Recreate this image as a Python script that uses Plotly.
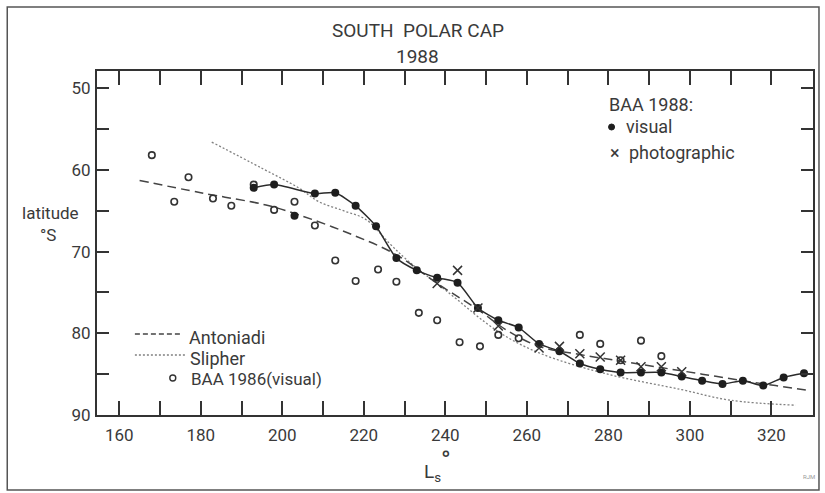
import plotly.graph_objects as go

# ---------------- data ----------------
# BAA 1988 visual observations (connected by the solid curve)
visual_ls = [193, 198, 208, 213, 218, 223, 228, 233, 238, 243, 248, 253, 258, 263,
             268, 273, 278, 283, 288, 293, 298, 303, 308, 313, 318, 323, 328]
visual_lat = [62.2, 61.8, 62.9, 62.8, 64.4, 66.9, 70.8, 72.3, 73.2, 73.8, 76.9, 78.4, 79.3, 81.3,
              82.2, 83.7, 84.4, 84.8, 84.8, 84.8, 85.3, 85.8, 86.2, 85.8, 86.4, 85.4, 84.9]
# isolated visual point not on the curve
visual_extra_ls = [203]
visual_extra_lat = [65.6]

# BAA 1988 photographic
photo_ls = [238, 243, 248, 253, 263, 268, 273, 278, 283, 288, 293, 298]
photo_lat = [73.9, 72.3, 76.9, 79.1, 81.8, 81.6, 82.5, 82.9, 83.3, 84.1, 84.1, 84.7]

# BAA 1986 visual
baa86_ls = [168, 173.5, 177, 183, 187.5, 193, 198, 203, 208, 213, 218, 223.5, 228, 233.5,
            238, 243.5, 248.5, 253, 258, 273, 278, 283, 288, 293]
baa86_lat = [58.2, 63.9, 60.9, 63.5, 64.4, 61.8, 64.9, 63.9, 66.8, 71.1, 73.6, 72.2, 73.7, 77.5,
             78.4, 81.1, 81.6, 80.2, 80.6, 80.2, 81.3, 83.3, 80.9, 82.8]

# Antoniadi curve
anton_ls = [165, 180, 196, 204, 216, 228, 238, 248, 255, 263, 273, 283, 293, 303, 313, 321, 329.5]
anton_lat = [61.3, 62.8, 64.3, 65.5, 67.7, 70.4, 73.9, 77.1, 79.6, 81.6, 82.6, 83.4, 84.2, 85.0, 85.8, 86.4, 87.0]

# Slipher curve
slipher_ls = [182.7, 195, 204, 209, 215, 220.6, 226.3, 231, 240, 253, 263, 279, 298, 310, 326]
slipher_lat = [56.6, 59.8, 62.2, 63.9, 65.0, 66.1, 69.0, 71.2, 74.7, 79.8, 82.4, 84.9, 86.9, 88.2, 88.8]

# axis ticks
x_tick_vals = [160, 170, 180, 190, 200, 210, 220, 230, 240, 250, 260, 270, 280, 290, 300, 310, 320]
x_tick_text = ["160", "", "180", "", "200", "", "220", "", "240", "", "260", "", "280", "", "300", "", "320"]
y_tick_vals = [50, 55, 60, 65, 70, 75, 80, 85, 90]
y_tick_text = ["50", "", "60", "", "70", "", "80", "", "90"]

# ---------------- layout helpers ----------------
W, H = 825, 493
ML, MT = 97, 71
MR = W - 815
MB = H - 415
PW, PH = W - ML - MR, H - MT - MB


def fx(px):
    return (px - ML) / PW


def fy(py):
    return (H - MB - py) / PH


INK = "#2b2b2b"
TXT = "#3a3a3a"
FONT = "Roboto"

fig = go.Figure()

fig.add_trace(go.Scatter(
    x=slipher_ls, y=slipher_lat, mode="lines", line_shape="spline",
    line=dict(color="#808080", width=1.3, dash="2px,2px"), hoverinfo="skip"))
fig.add_trace(go.Scatter(
    x=anton_ls, y=anton_lat, mode="lines", line_shape="spline",
    line=dict(color="#444", width=1.5, dash="9px,5px"), hoverinfo="skip"))
fig.add_trace(go.Scatter(
    x=baa86_ls, y=baa86_lat, mode="markers",
    marker=dict(symbol="circle-open", size=6.5, color="#333", line=dict(width=1.6))))
fig.add_trace(go.Scatter(
    x=visual_ls, y=visual_lat, mode="lines+markers", line_shape="spline",
    line=dict(color=INK, width=1.5, smoothing=0.6),
    marker=dict(symbol="circle", size=8, color="#1e1e1e")))
fig.add_trace(go.Scatter(
    x=visual_extra_ls, y=visual_extra_lat, mode="markers",
    marker=dict(symbol="circle", size=8, color="#1e1e1e")))
fig.add_trace(go.Scatter(
    x=photo_ls, y=photo_lat, mode="markers",
    marker=dict(symbol="x-thin-open", size=9, color="#333", line=dict(width=1.5, color="#333"))))

axis_common = dict(
    showline=True, linecolor="#333", linewidth=2, mirror="ticks",
    ticks="inside", tickcolor="#333", tickwidth=1.5,
    showgrid=False, zeroline=False,
    tickfont=dict(family=FONT, size=17, color=TXT),
)

fig.update_xaxes(range=[154.55, 330.2], tickvals=x_tick_vals, ticktext=x_tick_text,
                 ticklen=14, ticklabelstandoff=4, **axis_common)
fig.update_yaxes(range=[90, 47.9], tickvals=y_tick_vals, ticktext=y_tick_text,
                 ticklen=12, ticklabelstandoff=1, **axis_common)

ann = []


def text(px, py, s, size=19, xanchor="center", color=TXT):
    ann.append(dict(x=fx(px), y=fy(py), xref="paper", yref="paper", text=s, showarrow=False,
                    xanchor=xanchor, yanchor="middle", font=dict(family=FONT, size=size, color=color)))


text(419, 30, "SOUTH  POLAR CAP")
text(418.5, 57, "1988")
text(50, 213, "latitude", size=17)
text(48, 235, "°S", size=17)
text(423, 472, "L<sub>s</sub>", xanchor="left")
text(447, 460, "°", size=26)
text(608, 105, "BAA 1988:", xanchor="left", size=18)
text(625, 127, "visual", xanchor="left", size=18)
text(609, 152, "×", xanchor="left", size=18)
text(628, 152, "photographic", xanchor="left", size=18)
text(187, 337, "Antoniadi", xanchor="left", size=18)
text(188, 358, "Slipher", xanchor="left", size=18)
text(189, 379, "BAA 1986(visual)", xanchor="left", size=17)
text(811, 477, "RJM", size=6, color="#999")

shapes = [
    # outer border
    dict(type="rect", xref="paper", yref="paper", x0=fx(7), x1=fx(821), y0=fy(490), y1=fy(7),
         line=dict(color="#555", width=1.5)),
    # legend samples
    dict(type="line", xref="paper", yref="paper", x0=fx(135), x1=fx(183), y0=fy(334), y1=fy(334),
         line=dict(color="#444", width=1.5, dash="5px,3px")),
    dict(type="line", xref="paper", yref="paper", x0=fx(135), x1=fx(187), y0=fy(355), y1=fy(355),
         line=dict(color="#808080", width=1.3, dash="2px,2px")),
    dict(type="circle", xref="paper", yref="paper", x0=fx(170), x1=fx(176), y0=fy(381), y1=fy(375),
         line=dict(color="#333", width=1.4)),
    dict(type="circle", xref="paper", yref="paper", x0=fx(610), x1=fx(616), y0=fy(130), y1=fy(124),
         fillcolor="#1e1e1e", line=dict(color="#1e1e1e", width=1)),
]

fig.update_layout(
    width=W, height=H, margin=dict(l=ML, r=MR, t=MT, b=MB),
    paper_bgcolor="white", plot_bgcolor="white", showlegend=False,
    annotations=ann, shapes=shapes,
)

fig.write_html("out.html", config={"displayModeBar": False},
               post_script="document.body.style.margin='0';document.body.style.overflow='hidden';")
